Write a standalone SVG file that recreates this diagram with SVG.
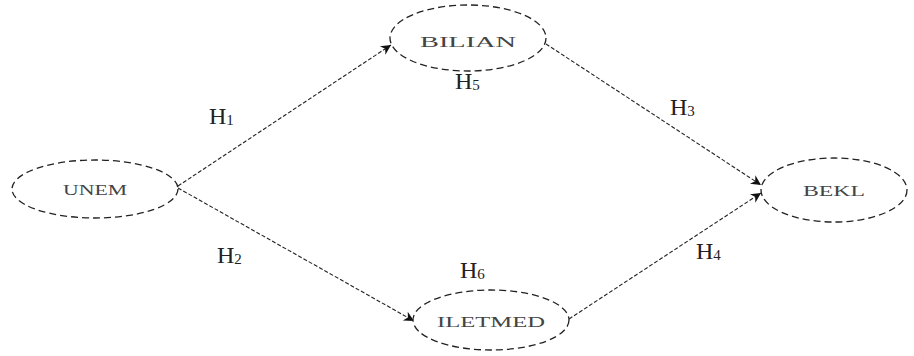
<svg xmlns="http://www.w3.org/2000/svg" width="914" height="356" viewBox="0 0 914 356">
<defs>
<marker id="ah" viewBox="0 0 10 10" refX="10" refY="5" markerWidth="14" markerHeight="10" markerUnits="userSpaceOnUse" orient="auto">
<path d="M0,0 L10,5 L0,10 L3,5 Z" fill="#111"/>
</marker>
<style>
.node ellipse{fill:#fff;stroke:#222;stroke-width:1.3;stroke-dasharray:7 4}
.node text{font-family:"Liberation Serif",serif;font-size:15px;fill:#444;text-anchor:middle}
.edge{stroke:#222;stroke-width:1.1;stroke-dasharray:4 2;fill:none;marker-end:url(#ah)}
.lbl{font-family:"Liberation Serif",serif;font-size:24px;fill:#222}
.lbl tspan.s{font-size:15px}
</style>
</defs>
<rect width="914" height="356" fill="#fff"/>
<g id="connectors">
<line class="edge" x1="178" y1="186" x2="391" y2="45"/>
<line class="edge" x1="178" y1="188" x2="414" y2="321"/>
<line class="edge" x1="546" y1="44" x2="761" y2="185"/>
<line class="edge" x1="569" y1="319" x2="761" y2="193"/>
</g>
<g id="UNEM" class="node"><ellipse cx="95" cy="189" rx="83" ry="29"/><text x="95" y="195" textLength="64" lengthAdjust="spacingAndGlyphs">UNEM</text></g>
<g id="BILIAN" class="node"><ellipse cx="468" cy="38" rx="78" ry="33"/><text x="468" y="47" textLength="96" lengthAdjust="spacingAndGlyphs">BILIAN</text></g>
<g id="ILETMED" class="node"><ellipse cx="491" cy="320" rx="78" ry="30"/><text x="491" y="327" textLength="108" lengthAdjust="spacingAndGlyphs">ILETMED</text></g>
<g id="BEKL" class="node"><ellipse cx="834" cy="190" rx="73" ry="32"/><text x="834" y="196" textLength="62" lengthAdjust="spacingAndGlyphs">BEKL</text></g>
<g id="labels">
<text class="lbl" x="209" y="124">H<tspan class="s" dy="1">1</tspan></text>
<text class="lbl" x="217" y="263">H<tspan class="s" dy="1">2</tspan></text>
<text class="lbl" x="670" y="115">H<tspan class="s" dy="1">3</tspan></text>
<text class="lbl" x="696" y="259">H<tspan class="s" dy="1">4</tspan></text>
<text class="lbl" x="455" y="89">H<tspan class="s" dy="1">5</tspan></text>
<text class="lbl" x="460" y="278">H<tspan class="s" dy="1">6</tspan></text>
</g>
</svg>
